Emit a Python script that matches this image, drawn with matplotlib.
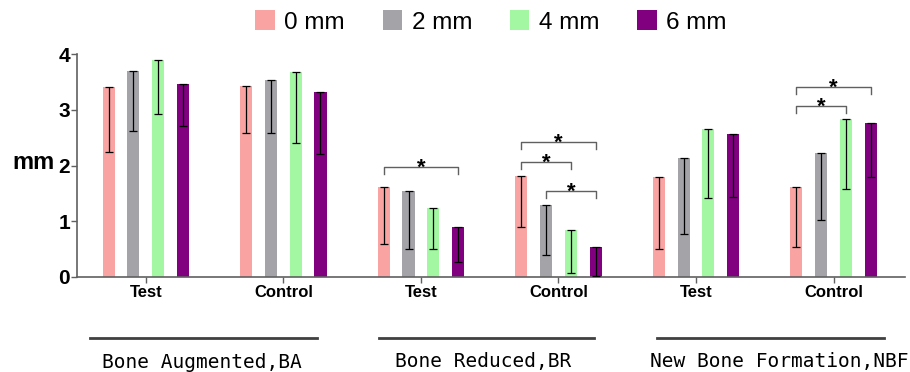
import matplotlib
matplotlib.use("Agg")
import matplotlib.pyplot as plt
from matplotlib.patches import Patch
import numpy as np

plt.rcParams['font.family'] = ['Liberation Sans', 'DejaVu Sans']

# data
groups = ["Test", "Control", "Test", "Control", "Test", "Control"]
series = ["0 mm", "2 mm", "4 mm", "6 mm"]
colors = ["#F9A3A3", "#A3A3A8", "#A3F7A3", "#800080"]

mean_0 = [3.41, 3.43, 1.62, 1.82, 1.79, 1.61]
mean_2 = [3.70, 3.53, 1.54, 1.29, 2.14, 2.23]
mean_4 = [3.89, 3.68, 1.24, 0.84, 2.65, 2.84]
mean_6 = [3.47, 3.31, 0.90, 0.54, 2.57, 2.77]

sd_0 = [1.16, 0.84, 1.02, 0.92, 1.29, 1.07]
sd_2 = [1.09, 0.94, 1.04, 0.90, 1.37, 1.20]
sd_4 = [0.97, 1.27, 0.74, 0.76, 1.23, 1.27]
sd_6 = [0.76, 1.10, 0.64, 0.52, 1.13, 0.97]

sections = ["Bone Augmented,BA", "Bone Reduced,BR", "New Bone Formation,NBF"]

# significance brackets: (group, series a, series b, height)
sig_group = [2, 3, 3, 3, 5, 5]
sig_a = [0, 0, 0, 1, 0, 0]
sig_b = [3, 3, 2, 3, 3, 2]
sig_y = [1.97, 2.43, 2.06, 1.55, 3.41, 3.07]

means = [mean_0, mean_2, mean_4, mean_6]
sds = [sd_0, sd_2, sd_4, sd_6]

fig = plt.figure(figsize=(9.1, 3.72), dpi=100)
ax = fig.add_axes([0.0846, 0.2554, 0.91, 0.5994])

x = np.arange(len(groups))
offsets = [-0.27, -0.09, 0.09, 0.27]
w = 0.088
for i in range(4):
    m = np.array(means[i])
    ax.bar(x + offsets[i], m, width=w, color=colors[i], zorder=2)
    ax.errorbar(x + offsets[i], m, yerr=[sds[i], np.zeros(len(m))], fmt='none',
                ecolor='black', elinewidth=0.9, capsize=3, capthick=0.9, zorder=3)

# brackets and stars
drop = 0.13
for g, a, b, y in zip(sig_group, sig_a, sig_b, sig_y):
    xa = g + offsets[a]
    xb = g + offsets[b]
    ax.plot([xa, xa, xb, xb], [y - drop, y, y, y - drop], color='#606060', lw=1, zorder=4)
    ax.text((xa + xb) / 2, y - 0.12, "*", ha='center', va='baseline', fontsize=16,
            fontweight='bold', color='black')

ax.set_xlim(-0.5, 5.52)
ax.set_ylim(0, 4)
ax.set_yticks([0, 1, 2, 3, 4])
ax.set_xticks(x)
ax.set_xticklabels(groups, fontsize=12, fontweight='bold')
for t in ax.get_yticklabels():
    t.set_fontsize(15)
    t.set_fontweight('bold')
ax.tick_params(axis='y', length=4, width=1, pad=1, color='#606060')
ax.tick_params(axis='x', length=4, width=1, pad=2, color='#606060')
for s in ['top', 'right']:
    ax.spines[s].set_visible(False)
for s in ['left', 'bottom']:
    ax.spines[s].set_color('#606060')
    ax.spines[s].set_linewidth(1.2)

fig.text(33 / 910, 1 - 162 / 372, "mm", ha='center', va='center', fontsize=17, fontweight='bold')

# legend
handles = [Patch(facecolor=c, edgecolor='none', label=l) for c, l in zip(colors, series)]
fig.legend(handles=handles, loc='center', bbox_to_anchor=(491 / 910, 1 - 22 / 372), ncol=4,
           frameon=False, fontsize=17.5, handlelength=0.8, handleheight=0.85,
           handletextpad=0.4, columnspacing=1.55, borderpad=0)

# section lines and labels
line_x = [(90, 317), (379, 594), (657, 884)]
text_x = [102, 395, 650]
for (x0, x1), tx, name in zip(line_x, text_x, sections):
    fig.add_artist(plt.Line2D([x0 / 910, x1 / 910], [1 - 338 / 372] * 2, color='#404040', lw=2))
    fig.text(tx / 910, 1 - 362 / 372, name, ha='left', va='center', fontsize=14,
             family='DejaVu Sans Mono')

fig.savefig("out.png", dpi=100)
